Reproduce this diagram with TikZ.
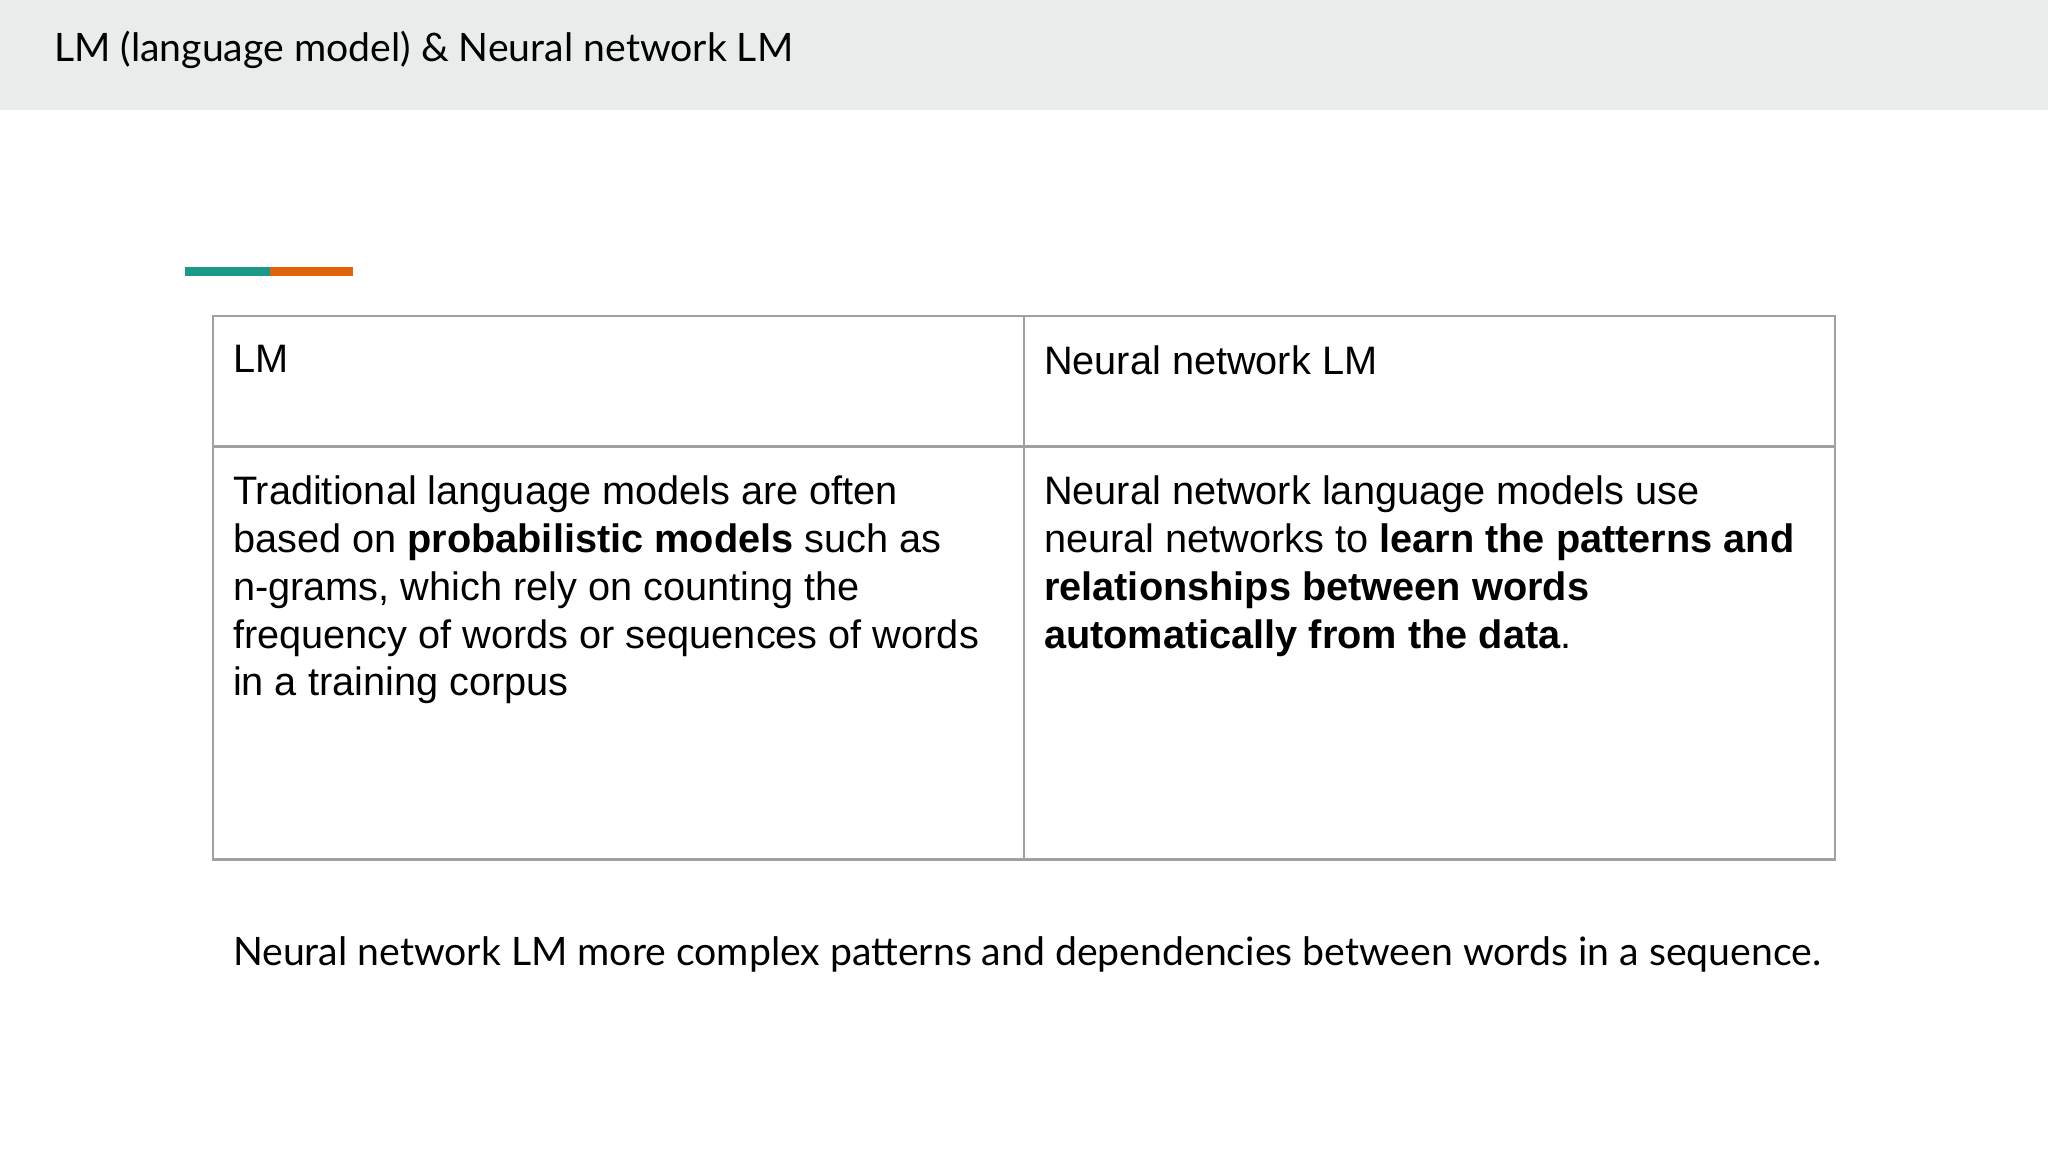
\documentclass[tikz,border=0pt]{standalone}
\usepackage{fontspec}
\setmainfont{Liberation Sans}
\newfontfamily\latof{Lato}
\definecolor{hdr}{HTML}{E8ECEB}
\definecolor{teal1}{HTML}{1A9988}
\definecolor{orng}{HTML}{E0620D}
\definecolor{gridc}{HTML}{A0A0A0}
\begin{document}
\begin{tikzpicture}[x=0.5pt,y=-0.5pt,
  cell/.style={anchor=north west,inner sep=0pt,align=left,font=\fontsize{15.2}{18.3}\selectfont},
  grid/.style={draw=gridc,line width=1pt}]
\useasboundingbox (0,0) rectangle (1568,882);
\fill[hdr] (0,0) rectangle (1568,84);
\node[anchor=west,inner sep=0pt,font=\latof\fontsize{15}{18}\selectfont] (title) at (41,38) {LM (language model) \& Neural network LM};
\fill[teal1] (142,204.5) rectangle (207,211.5);
\fill[orng] (207,204.5) rectangle (270,211.5);
\draw[grid] (163,242) rectangle (1405,658);
\draw[grid] (784,242) -- (784,658);
\draw[grid] (163,342) -- (1405,342);
\node[cell] (h1) at (178,264) {LM};
\node[cell] (h2) at (799,264) {Neural network LM};
\node[cell] (b1) at (178,364) {Traditional language models are often\\based on \textbf{probabilistic models} such as\\n-grams, which rely on counting the\\frequency of words or sequences of words\\in a training corpus};
\node[cell] (b2) at (799,364) {Neural network language models use\\neural networks to \textbf{learn the patterns and}\\\textbf{relationships between words}\\\textbf{automatically from the data}.};
\node[anchor=west,inner sep=0pt,font=\latof\fontsize{15}{18}\selectfont] (foot) at (178,731) {Neural network LM more complex patterns and dependencies between words in a sequence.};
\end{tikzpicture}
\end{document}
